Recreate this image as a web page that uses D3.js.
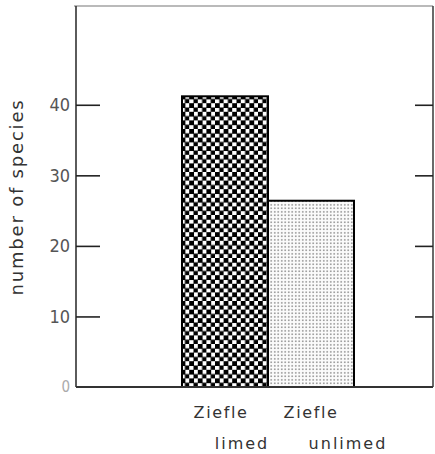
<!DOCTYPE html>
<html>
<head>
<meta charset="utf-8">
<script src="https://cdn.jsdelivr.net/npm/d3@7"></script>
<style>
  body { margin: 0; background: #fff; }
  svg { display: block; }
  .tick text { font-family: "DejaVu Sans Condensed", "DejaVu Sans", sans-serif; font-size: 18px; fill: #555; }
  .lab { font-family: "DejaVu Sans", sans-serif; font-size: 16px; fill: #333; letter-spacing: 1.6px; }
</style>
</head>
<body>
<div id="chart"></div>
<script>
// data
const categories = ["Ziefle limed", "Ziefle unlimed"];
const labelLine1 = ["Ziefle", "Ziefle"];
const labelLine2 = ["limed", "unlimed"];
const speciesCount = [41.2, 26.4];
const yTicks = [0, 10, 20, 30, 40];
const yLabel = "number of species";

const width = 435, height = 454;
const plot = { left: 76, right: 433, top: 6, bottom: 387 };
const line2Shift = [17, 37];

const svg = d3.select("#chart").append("svg")
  .attr("width", width).attr("height", height);

const defs = svg.append("defs");
const chk = defs.append("pattern").attr("id", "checker")
  .attr("patternUnits", "userSpaceOnUse").attr("width", 8.6).attr("height", 8.6);
chk.append("rect").attr("width", 8.6).attr("height", 8.6).attr("fill", "#fff");
chk.append("rect").attr("x", 0).attr("y", 0).attr("width", 4.8).attr("height", 4.8).attr("fill", "#000");
chk.append("rect").attr("x", 4.3).attr("y", 4.3).attr("width", 4.8).attr("height", 4.8).attr("fill", "#000");

const dots = defs.append("pattern").attr("id", "dots")
  .attr("patternUnits", "userSpaceOnUse").attr("width", 3.5).attr("height", 3.5);
dots.append("rect").attr("width", 3.5).attr("height", 3.5).attr("fill", "#fbfbfb");
dots.append("circle").attr("cx", 1.75).attr("cy", 1.75).attr("r", 0.75).attr("fill", "#555");

const fills = ["url(#checker)", "url(#dots)"];

const y = d3.scaleLinear().domain([0, 54]).range([plot.bottom, plot.top]);
const x = d3.scaleBand().domain(categories).range([182, 354]).padding(0);

// frame
svg.append("line").attr("x1", plot.left - 2).attr("x2", plot.right).attr("y1", plot.top).attr("y2", plot.top)
  .attr("stroke", "#777").attr("stroke-width", 1.2);
svg.append("line").attr("x1", plot.left).attr("x2", plot.left).attr("y1", plot.top).attr("y2", plot.bottom)
  .attr("stroke", "#333").attr("stroke-width", 1.6);
svg.append("line").attr("x1", plot.right).attr("x2", plot.right).attr("y1", plot.top).attr("y2", plot.bottom)
  .attr("stroke", "#444").attr("stroke-width", 1.6);

// bars
svg.selectAll("rect.bar").data(speciesCount).enter().append("rect")
  .attr("class", "bar")
  .attr("x", (d, i) => x(categories[i]))
  .attr("y", d => y(d))
  .attr("width", x.bandwidth())
  .attr("height", d => y(0) - y(d))
  .attr("fill", (d, i) => fills[i])
  .attr("stroke", "#000")
  .attr("stroke-width", 2);

// baseline
svg.append("line").attr("x1", plot.left).attr("x2", plot.right).attr("y1", plot.bottom).attr("y2", plot.bottom)
  .attr("stroke", "#333").attr("stroke-width", 1.8);

// left axis, inward ticks
const yAxis = d3.axisLeft(y).tickValues(yTicks).tickSizeInner(-24).tickSizeOuter(0).tickPadding(6);
const gl = svg.append("g").attr("transform", `translate(${plot.left},0)`).call(yAxis);
gl.select(".domain").remove();
gl.selectAll(".tick line").attr("stroke", "#222").attr("stroke-width", 1.6)
  .filter(d => d === 0).remove();
gl.selectAll(".tick text").filter(d => d === 0).style("fill", "#aaa").style("font-size", "15px");

// right axis, inward ticks without labels
const yAxisR = d3.axisRight(y).tickValues(yTicks.filter(d => d > 0)).tickSizeInner(-18).tickSizeOuter(0).tickFormat("");
const gr = svg.append("g").attr("transform", `translate(${plot.right},0)`).call(yAxisR);
gr.select(".domain").remove();
gr.selectAll(".tick line").attr("stroke", "#222").attr("stroke-width", 1.6);

// category labels
svg.selectAll("text.l1").data(labelLine1).enter().append("text")
  .attr("class", "lab l1")
  .attr("x", (d, i) => x(categories[i]) + x.bandwidth() / 2 - (i === 0 ? 4 : 0))
  .attr("y", 418)
  .attr("text-anchor", "middle")
  .text(d => d);
svg.selectAll("text.l2").data(labelLine2).enter().append("text")
  .attr("class", "lab l2")
  .attr("x", (d, i) => x(categories[i]) + x.bandwidth() / 2 + line2Shift[i])
  .attr("y", 449)
  .attr("text-anchor", "middle")
  .style("letter-spacing", "2px")
  .text(d => d);

// y label
svg.append("text")
  .attr("class", "lab")
  .attr("transform", `translate(23,197) rotate(-90)`)
  .attr("text-anchor", "middle")
  .style("font-size", "18px")
  .style("letter-spacing", "1.8px")
  .text(yLabel);
</script>
</body>
</html>
